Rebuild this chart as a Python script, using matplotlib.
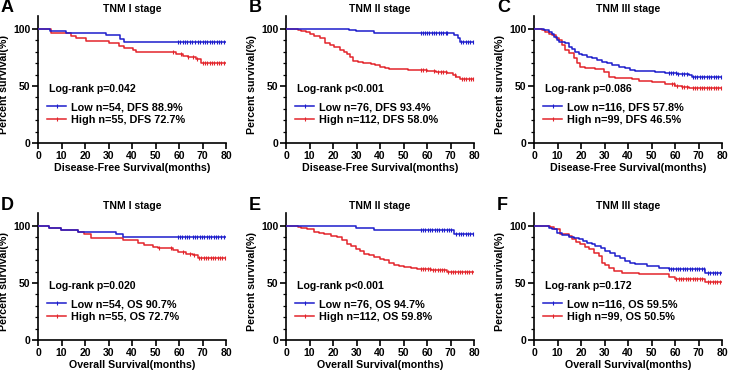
import numpy as np
import matplotlib
matplotlib.use("Agg")
import matplotlib.pyplot as plt
from matplotlib.lines import Line2D

plt.rcParams['font.family'] = ['Liberation Sans', 'DejaVu Sans']
plt.rcParams['font.weight'] = 'bold'

BLUE = '#1c1ccc'
RED = '#e3242b'

# ---------------- Panel A : DFS, TNM I ----------------
a_low_t = [5, 12, 29, 35, 36.5]
a_low_s = [98.1, 96.3, 94.4, 91.5, 88.9]
a_low_c = [59.5, 60.5, 61.5, 62.5, 63.5, 64.5, 65.5, 67, 68, 69, 70, 71, 72, 73, 74, 75, 76, 77, 78, 79.3]
a_high_t = [5.5, 14, 16.2, 20.4, 30, 34.5, 36.6, 40.3, 41.7, 58.7, 61.6, 63.7, 67.2, 69.4]
a_high_s = [96.2, 94.2, 92.0, 89.8, 87.4, 85.4, 83.3, 81.6, 79.5, 78.0, 76.6, 75.2, 73.7, 70.2]
a_high_c = [57.3, 61.0, 64.0, 66.0, 67.8, 70, 71, 72, 73, 74, 75, 76, 77, 78, 79.3]

# ---------------- Panel B : DFS, TNM II ----------------
b_low_t = [26.8, 29.6, 37.4, 71.5, 73, 74]
b_low_s = [99.1, 98.2, 96.5, 94.7, 92.0, 88.3]
b_low_c = [57.3, 58.2, 59.1, 60, 61, 62, 63, 64, 65, 66, 67, 68, 68.7, 74.5, 75.5, 76.5, 77.5, 78.5, 79.5]
b_high_t = [5, 6.5, 8.5, 10.2, 12, 14.5, 16.6, 18.7, 20.5, 23, 24.5, 25.8, 27.2, 28.7,
            30.5, 32.9, 36, 38, 40, 42, 43.8, 45.7, 52, 59.9, 64, 68.4, 71, 72.5, 74]
b_high_s = [99.1, 98.2, 97.3, 96.0, 94.2, 92.5, 88.0, 86.0, 84.3, 82.0, 80.2, 78.0, 75.0, 72.0,
            70.8, 70.0, 69.1, 68.2, 67.0, 66.1, 65.2, 64.5, 64.0, 63.5, 62.5, 61.5, 59.5, 58.0, 56.0]
b_high_c = [57.3, 58.5, 59.5, 63, 64.5, 66, 67, 68, 72, 74.8, 75.8, 76.8, 77.8, 78.8, 79.6]

# ---------------- Panel C : DFS, TNM III ----------------
c_low_t = [4.1, 6.2, 7.5, 8.4, 9.8, 10.5, 13.3, 14.8, 16.2, 17.6, 19, 20.4, 22.5, 24.7, 27,
           29, 31, 33.2, 36, 38.9, 41, 43.1, 47, 51.6, 55.9, 61, 65.8, 67.2]
c_low_s = [99.1, 97.7, 95.5, 93.3, 90.4, 88.3, 87.4, 84.5, 82.2, 80.0, 78.5, 77.2, 75.7, 74.3, 72.8,
           71.3, 69.8, 68.4, 66.9, 65.5, 64.4, 63.5, 63.0, 62.6, 61.0, 60.2, 59.6, 57.8]
c_low_c = [57.3, 58.3, 59.3, 60.3, 61.3, 63, 64, 65, 67.5, 68.5, 69.5, 70.5, 71.5, 72.5, 73.5,
           74.5, 75.5, 76.5, 77.5, 78.5, 79.5]
c_high_t = [3.4, 4.8, 6.5, 7.7, 9.5, 10.5, 11.9, 13.3, 14.8, 16.9, 18.3, 19.7, 21.8, 26.1, 29.6,
            31.8, 34.6, 41.7, 44.5, 50.2, 55.9, 60.1, 63, 65.8]
c_high_s = [98.9, 97.7, 95.5, 94.7, 92.5, 90.4, 86.0, 81.6, 78.7, 74.3, 69.9, 67.0, 65.5, 64.9, 62.6,
            58.2, 56.7, 56.1, 54.4, 53.2, 51.5, 50.3, 49.4, 48.0]
c_high_c = [58.7, 59.7, 60.7, 63, 64, 65, 67.5, 68.5, 69.5, 70.5, 71.5, 72.5, 73.5, 74.5, 75.5,
            76.5, 77.5, 78.5, 79.5]

# ---------------- Panel D : OS, TNM I ----------------
d_low_t = [4.8, 9.8, 16.9, 33.2, 36]
d_low_s = [98.1, 96.3, 94.4, 92.6, 90.7]
d_low_c = [59.4, 60.4, 61.4, 62.4, 63.4, 64.4, 65.8, 66.8, 67.8, 68.8, 69.8, 70.8, 71.8, 72.8,
           73.8, 74.8, 75.8, 76.8, 77.8, 79.3]
d_high_t = [4.8, 9.8, 16.9, 19.7, 22.6, 36, 42.4, 45.2, 48.8, 50.9, 57.3, 59.4, 63, 65.8, 67.9]
d_high_s = [98.2, 96.4, 94.5, 92.7, 89.8, 87.4, 85.4, 83.3, 81.6, 80.4, 78.7, 77.5, 75.7, 74.3, 72.2]
d_high_c = [51.5, 56.5, 61.5, 64.5, 66.5, 68.5, 69.5, 70.5, 71.5, 72.5, 73.5, 74.5, 75.5, 76.5,
            77.5, 78.5, 79.5]

# ---------------- Panel E : OS, TNM II ----------------
e_low_t = [29.6, 37.4, 71.5]
e_low_s = [98.2, 96.2, 92.6]
e_low_c = [57.3, 58.3, 59.3, 60.3, 61.3, 62.3, 63.3, 64.3, 65.3, 66.3, 67.3, 68.3, 69.3, 70,
           72.5, 73.5, 74.5, 75.5, 76.5, 77.5, 78.5, 79.5]
e_high_t = [5, 6.2, 9, 11.9, 14, 16.2, 19, 21.8, 24, 26.1, 27.8, 29.6, 31.5, 33.2, 35.5, 37.4,
            40, 41.7, 44, 46, 48, 50.2, 53, 55.9, 61.5, 68.4]
e_high_s = [99.1, 98.2, 97.0, 94.7, 93.6, 92.7, 91.5, 90.4, 87.6, 84.5, 82.3, 80.1, 77.8, 75.7, 74.2, 72.8,
            71.3, 69.9, 67.9, 66.1, 65.0, 64.0, 63.0, 62.0, 61.1, 59.6]
e_high_c = [57.3, 58.3, 59.3, 60.3, 61.3, 62.5, 63.5, 64.5, 65.5, 66.5, 67.2, 69, 70, 71, 72, 73,
            74, 75, 76, 77, 78, 79.3]

# ---------------- Panel F : OS, TNM III ----------------
f_low_t = [6.2, 7.7, 9.8, 11.9, 14.8, 17, 19, 20.8, 22.6, 24.5, 26.1, 28.3, 30.4, 32.5, 34.6,
           36.8, 38.9, 41, 43.1, 48, 53, 57.3, 72.9]
f_low_s = [98.3, 97.0, 94.2, 92.1, 90.4, 89.4, 88.3, 86.9, 85.4, 84.0, 82.5, 80.3, 78.1, 75.9, 73.7,
           71.5, 69.3, 67.9, 66.4, 65.0, 63.5, 62.0, 59.0]
f_low_c = [57.3, 58.3, 59.3, 60.3, 61.3, 62.3, 63.3, 64.3, 65.3, 66.3, 67.3, 68.3, 69.3, 70.3,
           71.3, 72.3, 74, 75, 76, 77, 78, 79.3]
f_high_t = [7, 8.4, 11.2, 14.8, 16.2, 18, 19.7, 21.5, 23.3, 25.4, 27.5, 29, 30.4, 31.8, 33.9,
            37.4, 44.5, 53, 57.3, 60.1, 72.9]
f_high_s = [98.9, 97.0, 92.7, 91.2, 88.3, 86.1, 83.9, 81.7, 79.5, 76.6, 73.7, 67.8, 65.6, 63.5, 60.5,
            59.0, 58.2, 57.6, 55.3, 53.8, 51.0]
f_high_c = [60.5, 61.5, 62.5, 63.5, 64.5, 65.5, 66.5, 67.5, 68.5, 69.5, 70.5, 71.5, 74, 75, 76,
            77, 78, 79.3]

letters = ['A', 'B', 'C', 'D', 'E', 'F']
titles = ['TNM I stage', 'TNM II stage', 'TNM III stage'] * 2
xlabels = ['Disease-Free Survival(months)'] * 3 + ['Overall Survival(months)'] * 3
pvals = ['Log-rank p=0.042', 'Log-rank p<0.001', 'Log-rank p=0.086',
         'Log-rank p=0.020', 'Log-rank p<0.001', 'Log-rank p=0.172']
low_labels = ['Low n=54, DFS 88.9%', 'Low n=76, DFS 93.4%', 'Low n=116, DFS 57.8%',
              'Low n=54, OS 90.7%', 'Low n=76, OS 94.7%', 'Low n=116, OS 59.5%']
high_labels = ['High n=55, DFS 72.7%', 'High n=112, DFS 58.0%', 'High n=99, DFS 46.5%',
               'High n=55, OS 72.7%', 'High n=112, OS 59.8%', 'High n=99, OS 50.5%']

panels = [
    (a_low_t, a_low_s, a_low_c, a_high_t, a_high_s, a_high_c),
    (b_low_t, b_low_s, b_low_c, b_high_t, b_high_s, b_high_c),
    (c_low_t, c_low_s, c_low_c, c_high_t, c_high_s, c_high_c),
    (d_low_t, d_low_s, d_low_c, d_high_t, d_high_s, d_high_c),
    (e_low_t, e_low_s, e_low_c, e_high_t, e_high_s, e_high_c),
    (f_low_t, f_low_s, f_low_c, f_high_t, f_high_s, f_high_c),
]

W, H = 730, 376
fig = plt.figure(figsize=(W / 100, H / 100), dpi=100)

col_left = [38, 286, 534]
row_zero = [143, 340]
ax_w = 188
px_per_pct = 1.14
ytop = 111


def draw_km(ax, t, s, c, color):
    tt = np.concatenate([[0.0], np.asarray(t, float), [80.0]])
    ss = np.concatenate([[100.0], np.asarray(s, float), [s[-1]]])
    ax.plot(tt, ss, drawstyle='steps-post', color=color, lw=1.1, zorder=3)
    c = np.asarray(c, float)
    idx = np.searchsorted(tt, c, side='right') - 1
    ax.plot(c, ss[idx], ls='none', marker='|', ms=3.5, mew=0.8, color=color, zorder=4)


for i, (lt, ls_, lc, ht, hs, hc) in enumerate(panels):
    r, col = divmod(i, 3)
    left = col_left[col] / W
    bottom = 1 - row_zero[r] / H
    height = ytop * px_per_pct / H
    ax = fig.add_axes([left, bottom, ax_w / W, height])

    draw_km(ax, ht, hs, hc, RED)
    draw_km(ax, lt, ls_, lc, BLUE)

    ax.set_xlim(0, 80)
    ax.set_ylim(0, ytop)
    ax.set_xticks(np.arange(0, 81, 10))
    ax.set_yticks([0, 50, 100])
    ax.set_yticks(np.arange(0, 101, 10), minor=True)
    for sp in ['top', 'right']:
        ax.spines[sp].set_visible(False)
    for sp in ['left', 'bottom']:
        ax.spines[sp].set_linewidth(1.2)
    ax.tick_params(axis='both', which='major', length=4, width=1.2, labelsize=7.5, pad=1.5)
    ax.tick_params(axis='y', which='minor', length=2.5, width=0.9)
    for lab in ax.get_xticklabels() + ax.get_yticklabels():
        lab.set_fontweight('bold')
    ax.set_xlabel(xlabels[i], fontsize=7.7, fontweight='bold', labelpad=2)
    ax.set_ylabel('Percent survival(%)', fontsize=7.7, fontweight='bold')
    ax.yaxis.set_label_coords(-0.155, 0.46)
    ax.set_title(titles[i], fontsize=7.5, fontweight='bold', pad=3)

    ax.text(0.06, 0.425, pvals[i], transform=ax.transAxes, fontsize=7.6,
            fontweight='bold', va='center', ha='left')
    handles = [Line2D([0], [0], color=BLUE, lw=1.1, marker='|', ms=3, mew=0.8),
               Line2D([0], [0], color=RED, lw=1.1, marker='|', ms=3, mew=0.8)]
    ax.legend(handles, [low_labels[i], high_labels[i]], loc='upper left',
              bbox_to_anchor=(0.05, 0.322), frameon=False, handlelength=1.7,
              handletextpad=0.5, labelspacing=0.25, borderaxespad=0, borderpad=0,
              numpoints=1, prop={'weight': 'bold', 'size': 7.8})

    lx = (col_left[col] - 37) / W
    ly = 1 - (8 if r == 0 else 205) / H
    fig.text(lx, ly, letters[i], fontsize=13, fontweight='bold', ha='left', va='center')

fig.savefig('out.png', dpi=100)
